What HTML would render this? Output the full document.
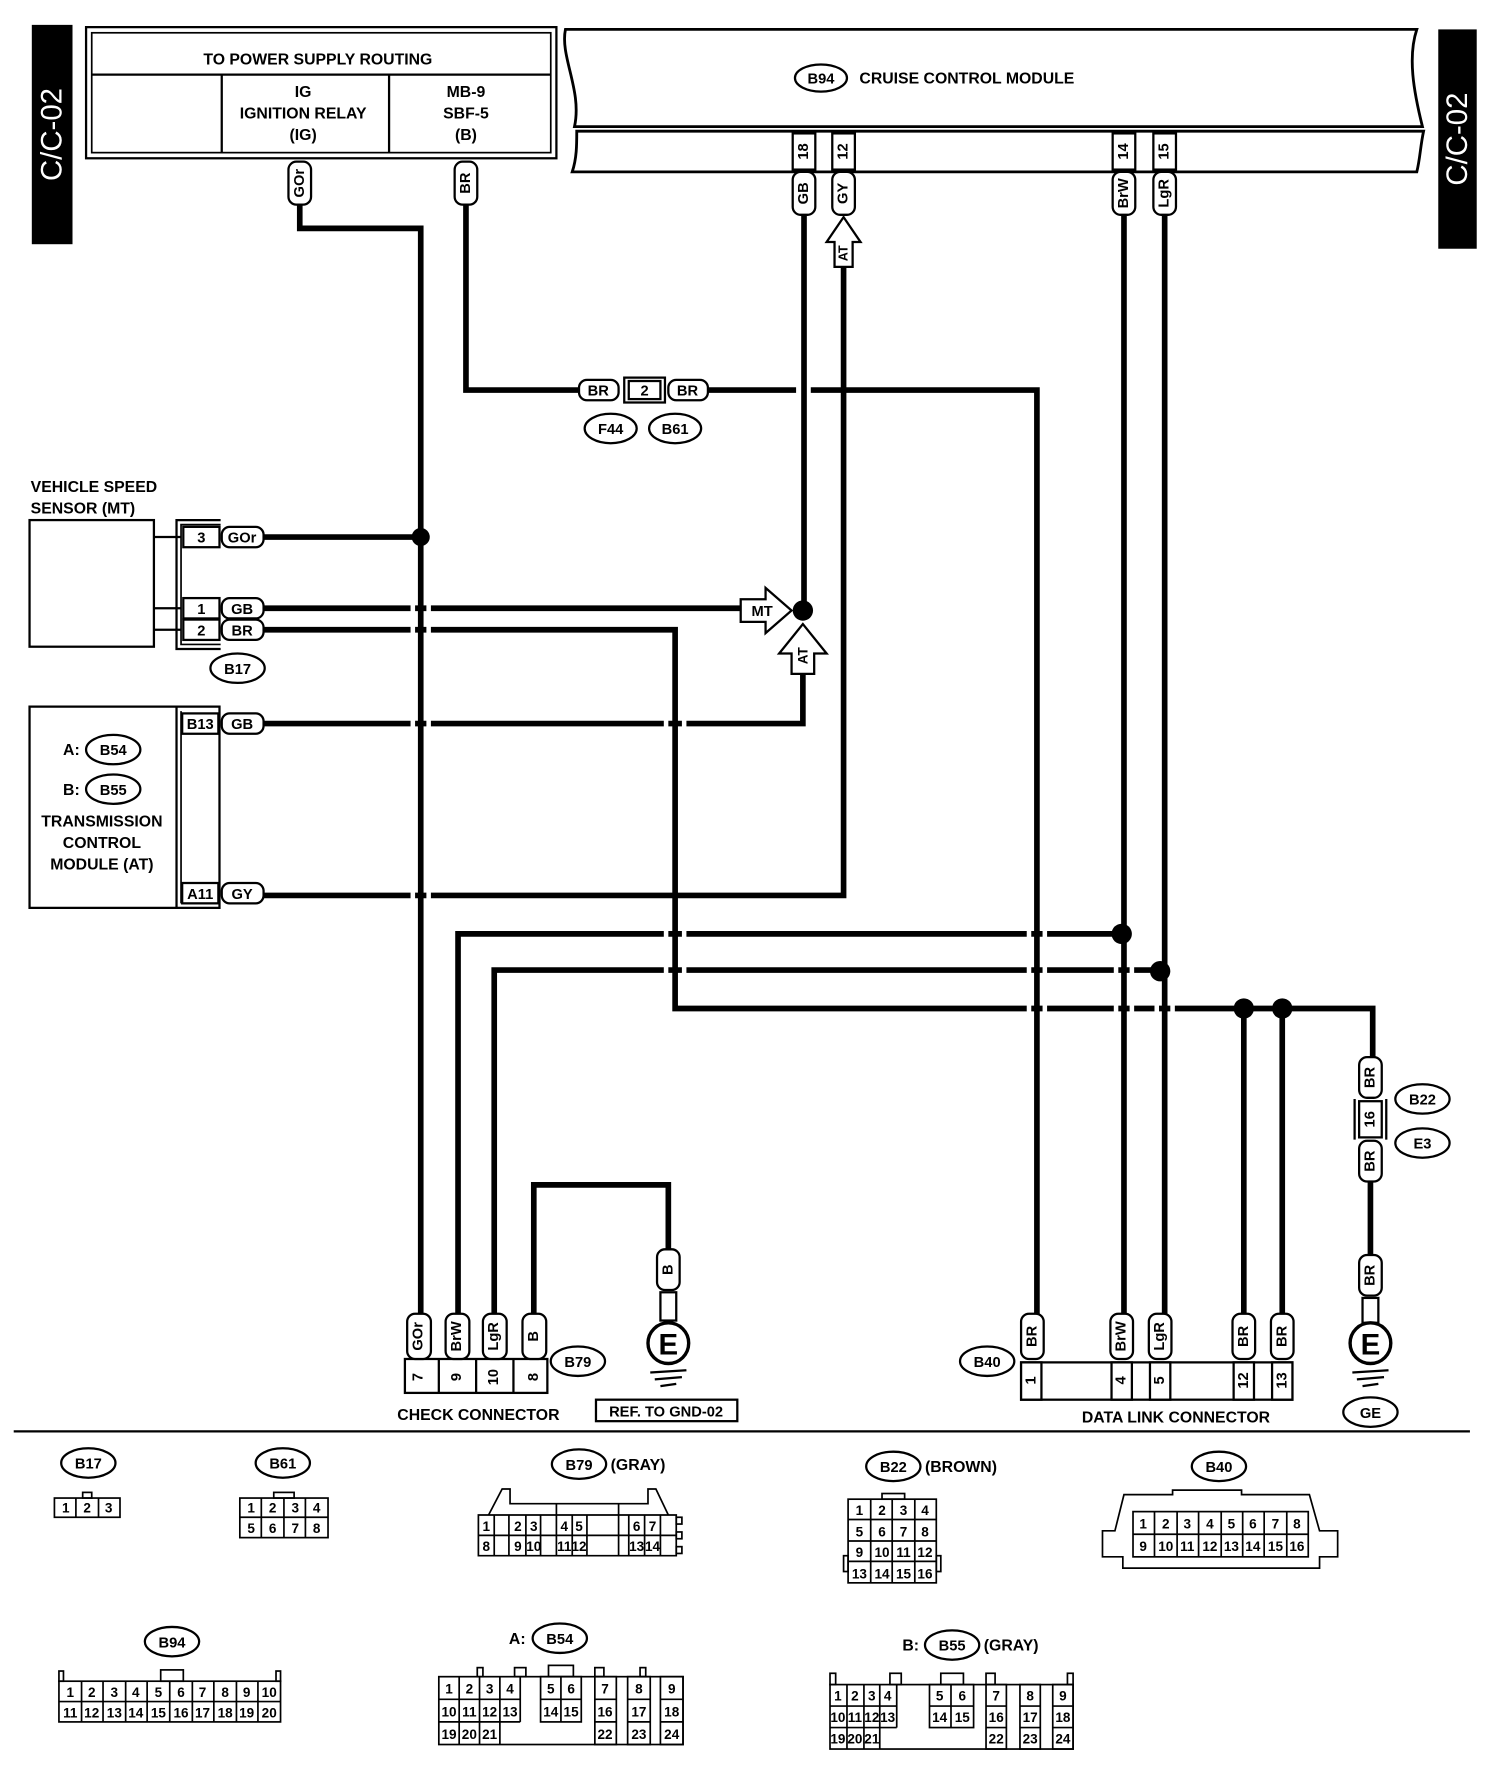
<!DOCTYPE html>
<html><head><meta charset="utf-8"><style>
html,body{margin:0;padding:0;background:#fff}
svg{display:block}
text{font-family:"Liberation Sans",sans-serif;font-weight:bold;fill:#000}
</style></head><body>
<svg width="1504" height="1766" viewBox="0 0 1330 1562" xmlns="http://www.w3.org/2000/svg">
<rect width="1330" height="1562" fill="#fff"/>
<rect x="28" y="22" width="36" height="194" fill="#000"/>
<text transform="translate(46,119) rotate(-90)" text-anchor="middle" dominant-baseline="central" font-size="26" style="fill:#fff;font-weight:normal">C/C-02</text>
<rect x="1272" y="26" width="34" height="194" fill="#000"/>
<text transform="translate(1289,123) rotate(-90)" text-anchor="middle" dominant-baseline="central" font-size="26" style="fill:#fff;font-weight:normal">C/C-02</text>

<g fill="none" stroke="#000" stroke-width="2">
<rect x="76" y="24" width="416" height="116"/>
<rect x="81" y="29" width="406" height="106" stroke-width="1.5"/>
<line x1="81" y1="66" x2="487" y2="66"/>
<line x1="196" y1="66" x2="196" y2="135"/>
<line x1="344" y1="66" x2="344" y2="135"/>
</g>
<text x="281" y="57" text-anchor="middle" font-size="14">TO POWER SUPPLY ROUTING</text>
<text x="268" y="86" text-anchor="middle" font-size="14">IG</text>
<text x="268" y="105" text-anchor="middle" font-size="14">IGNITION RELAY</text>
<text x="268" y="124" text-anchor="middle" font-size="14">(IG)</text>
<text x="412" y="86" text-anchor="middle" font-size="14">MB-9</text>
<text x="412" y="105" text-anchor="middle" font-size="14">SBF-5</text>
<text x="412" y="124" text-anchor="middle" font-size="14">(B)</text>

<g fill="none" stroke="#000" stroke-width="2.5">
<path d="M500,26 L1253,26 C1245,50 1250,80 1258,112 L508,112 C515,80 495,50 500,26 Z"/>
<path d="M510,116 L1259,116 C1256,130 1256,140 1253,152 L506,152 C510,140 510,128 510,116 Z"/>
</g>
<ellipse cx="726" cy="69" rx="23" ry="12" fill="none" stroke="#000" stroke-width="2"/>
<text x="726" y="74" text-anchor="middle" font-size="13">B94</text>
<text x="760" y="74" font-size="14">CRUISE CONTROL MODULE</text>

<g fill="none" stroke="#000" stroke-width="5">
<polyline points="265,180 265,202 372,202 372,1162"/>
<polyline points="412,180 412,345 512,345"/>
<line x1="626" y1="345" x2="704" y2="345"/>
<polyline points="717,345 917,345 917,1162"/>
<line x1="711" y1="190" x2="711" y2="540"/>
<polyline points="746,235 746,792 232,792"/>
<line x1="994" y1="190" x2="994" y2="1162"/>
<line x1="1030" y1="190" x2="1030" y2="1162"/>
<polyline points="405,1162 405,826 992,826"/>
<polyline points="437,1162 437,858 1026,858"/>
<line x1="232" y1="475" x2="372" y2="475"/>
<line x1="232" y1="538" x2="655" y2="538"/>
<polyline points="232,557 597,557 597,892 1214,892 1214,935"/>
<line x1="1100" y1="892" x2="1100" y2="1162"/>
<line x1="1134" y1="892" x2="1134" y2="1162"/>
<polyline points="232,640 710,640 710,595"/>
<polyline points="472,1162 472,1048 591,1048 591,1105"/>
<line x1="1212" y1="1045" x2="1212" y2="1110"/>
</g>
<g fill="#fff">
<rect x="363" y="533" width="4" height="10"/><rect x="377" y="533" width="4" height="10"/>
<rect x="363" y="552" width="4" height="10"/><rect x="377" y="552" width="4" height="10"/>
<rect x="363" y="635" width="4" height="10"/><rect x="377" y="635" width="4" height="10"/>
<rect x="587" y="635" width="4" height="10"/><rect x="603" y="635" width="4" height="10"/>
<rect x="363" y="787" width="4" height="10"/><rect x="377" y="787" width="4" height="10"/>
<rect x="363" y="821" width="4" height="10"/><rect x="377" y="821" width="4" height="10"/>
<rect x="363" y="853" width="4" height="10"/><rect x="377" y="853" width="4" height="10"/>
<rect x="396" y="853" width="4" height="10"/><rect x="410" y="853" width="4" height="10"/>
<rect x="587" y="821" width="4" height="10"/><rect x="603" y="821" width="4" height="10"/>
<rect x="587" y="853" width="4" height="10"/><rect x="603" y="853" width="4" height="10"/>
<rect x="908" y="821" width="4" height="10"/><rect x="922" y="821" width="4" height="10"/>
<rect x="908" y="853" width="4" height="10"/><rect x="922" y="853" width="4" height="10"/>
<rect x="908" y="887" width="4" height="10"/><rect x="922" y="887" width="4" height="10"/>
<rect x="985" y="853" width="4" height="10"/><rect x="999" y="853" width="4" height="10"/>
<rect x="985" y="887" width="4" height="10"/><rect x="999" y="887" width="4" height="10"/>
<rect x="1021" y="887" width="4" height="10"/><rect x="1035" y="887" width="4" height="10"/>
<rect x="737" y="635" width="4" height="10"/><rect x="751" y="635" width="4" height="10"/>
</g>
<g fill="#000">
<circle cx="372" cy="475" r="8"/><circle cx="710" cy="540" r="9"/>
<circle cx="992" cy="826" r="9"/><circle cx="1026" cy="859" r="9"/>
<circle cx="1100" cy="892" r="9"/><circle cx="1134" cy="892" r="9"/>
</g>

<g fill="#fff" stroke="#000" stroke-width="2">
<rect x="255" y="143" width="20" height="38" rx="7"/>
<rect x="402" y="143" width="20" height="38" rx="7"/>
<rect x="701" y="118" width="20" height="32"/><rect x="736" y="118" width="20" height="32"/>
<rect x="984" y="118" width="20" height="32"/><rect x="1020" y="118" width="20" height="32"/>
<rect x="701" y="152" width="20" height="38" rx="7"/><rect x="736" y="152" width="20" height="38" rx="7"/>
<rect x="984" y="152" width="20" height="38" rx="7"/><rect x="1020" y="152" width="20" height="38" rx="7"/>
</g>
<g font-size="13" text-anchor="middle" dominant-baseline="central">
<text transform="translate(265,162) rotate(-90)">GOr</text>
<text transform="translate(412,162) rotate(-90)">BR</text>
<text transform="translate(711,134) rotate(-90)">18</text>
<text transform="translate(746,134) rotate(-90)">12</text>
<text transform="translate(994,134) rotate(-90)">14</text>
<text transform="translate(1030,134) rotate(-90)">15</text>
<text transform="translate(711,171) rotate(-90)">GB</text>
<text transform="translate(746,171) rotate(-90)">GY</text>
<text transform="translate(994,171) rotate(-90)">BrW</text>
<text transform="translate(1030,171) rotate(-90)">LgR</text>
</g>
<path d="M746,192 L761,214 L754,214 L754,236 L738,236 L738,214 L731,214 Z" fill="#fff" stroke="#000" stroke-width="2"/>
<text transform="translate(746,224) rotate(-90)" text-anchor="middle" dominant-baseline="central" font-size="11">AT</text>
<path d="M655,530 L677,530 L677,520 L700,540 L677,560 L677,550 L655,550 Z" fill="#fff" stroke="#000" stroke-width="2"/>
<text x="674" y="545" text-anchor="middle" font-size="13">MT</text>
<path d="M710,552 L731,578 L720,578 L720,596 L700,596 L700,578 L689,578 Z" fill="#fff" stroke="#000" stroke-width="2"/>
<text transform="translate(710,580) rotate(-90)" text-anchor="middle" dominant-baseline="central" font-size="12">AT</text>

<g fill="#fff" stroke="#000" stroke-width="2">
<rect x="512" y="336" width="35" height="18" rx="7"/>
<rect x="552" y="334" width="36" height="22"/>
<rect x="556" y="337" width="28" height="16"/>
<rect x="591" y="336" width="35" height="18" rx="7"/>
<ellipse cx="540" cy="379" rx="23" ry="13"/>
<ellipse cx="597" cy="379" rx="23" ry="13"/>
</g>
<text x="529" y="350" text-anchor="middle" font-size="13">BR</text>
<text x="570" y="350" text-anchor="middle" font-size="13">2</text>
<text x="608" y="350" text-anchor="middle" font-size="13">BR</text>
<text x="540" y="384" text-anchor="middle" font-size="13">F44</text>
<text x="597" y="384" text-anchor="middle" font-size="13">B61</text>

<text x="27" y="435" font-size="14">VEHICLE SPEED</text>
<text x="27" y="454" font-size="14">SENSOR (MT)</text>
<g fill="none" stroke="#000" stroke-width="2">
<rect x="26" y="460" width="110" height="112"/>
<line x1="136" y1="475" x2="160" y2="475"/><line x1="136" y1="538" x2="160" y2="538"/><line x1="136" y1="557" x2="160" y2="557"/>
<polyline points="195,460 156,460 156,574 195,574"/>
<polyline points="195,464 160,464 160,570 195,570" stroke-width="1.5"/>
<rect x="162" y="466" width="32" height="18" fill="#fff"/>
<rect x="162" y="529" width="32" height="18" fill="#fff"/>
<rect x="162" y="548" width="32" height="18" fill="#fff"/>
<rect x="196" y="466" width="37" height="18" rx="7" fill="#fff"/>
<rect x="196" y="529" width="37" height="18" rx="7" fill="#fff"/>
<rect x="196" y="548" width="37" height="18" rx="7" fill="#fff"/>
<ellipse cx="210" cy="591" rx="24" ry="13"/>
</g>
<g font-size="13" text-anchor="middle">
<text x="178" y="480">3</text><text x="178" y="543">1</text><text x="178" y="562">2</text>
<text x="214" y="480">GOr</text><text x="214" y="543">GB</text><text x="214" y="562">BR</text>
<text x="210" y="596">B17</text>
</g>

<g fill="none" stroke="#000" stroke-width="2">
<rect x="26" y="625" width="168" height="178"/>
<line x1="156" y1="625" x2="156" y2="803"/>
<line x1="160" y1="629" x2="160" y2="799" stroke-width="1.5"/>
<rect x="161" y="631" width="32" height="18" fill="#fff"/>
<rect x="161" y="781" width="32" height="18" fill="#fff"/>
<rect x="196" y="631" width="37" height="18" rx="7" fill="#fff"/>
<rect x="196" y="781" width="37" height="18" rx="7" fill="#fff"/>
<ellipse cx="100" cy="663" rx="24" ry="13"/>
<ellipse cx="100" cy="698" rx="24" ry="13"/>
</g>
<g font-size="13" text-anchor="middle">
<text x="177" y="645">B13</text><text x="177" y="795">A11</text>
<text x="214" y="645">GB</text><text x="214" y="795">GY</text>
<text x="100" y="668">B54</text><text x="100" y="703">B55</text>
</g>
<g font-size="14" text-anchor="middle">
<text x="63" y="668">A:</text><text x="63" y="703">B:</text>
<text x="90" y="731">TRANSMISSION</text>
<text x="90" y="750">CONTROL</text>
<text x="90" y="769">MODULE (AT)</text>
</g>

<g fill="#fff" stroke="#000" stroke-width="2">
<rect x="358" y="1202" width="126" height="30"/>
<line x1="388" y1="1202" x2="388" y2="1232"/><line x1="421" y1="1202" x2="421" y2="1232"/>
<line x1="454" y1="1202" x2="454" y2="1232"/>
<rect x="360" y="1162" width="21" height="40" rx="7"/>
<rect x="394" y="1162" width="21" height="40" rx="7"/>
<rect x="427" y="1162" width="21" height="40" rx="7"/>
<rect x="462" y="1162" width="21" height="40" rx="7"/>
<ellipse cx="511" cy="1204" rx="24" ry="13"/>
<rect x="527" y="1238" width="125" height="19"/>
</g>
<g font-size="13" text-anchor="middle" dominant-baseline="central">
<text transform="translate(370,1182) rotate(-90)">GOr</text>
<text transform="translate(404,1182) rotate(-90)">BrW</text>
<text transform="translate(437,1182) rotate(-90)">LgR</text>
<text transform="translate(472,1182) rotate(-90)">B</text>
<text transform="translate(370,1218) rotate(-90)">7</text>
<text transform="translate(404,1218) rotate(-90)">9</text>
<text transform="translate(437,1218) rotate(-90)">10</text>
<text transform="translate(472,1218) rotate(-90)">8</text>
</g>
<text x="511" y="1209" text-anchor="middle" font-size="13">B79</text>
<text x="423" y="1256" text-anchor="middle" font-size="14">CHECK CONNECTOR</text>
<text x="589" y="1253" text-anchor="middle" font-size="13">REF. TO GND-02</text>

<g fill="#fff" stroke="#000" stroke-width="2">
<rect x="581" y="1105" width="20" height="36" rx="7"/>
<rect x="584" y="1143" width="14" height="25"/>
<circle cx="591" cy="1188" r="18" stroke-width="3"/>
</g>
<text transform="translate(591,1123) rotate(-90)" text-anchor="middle" dominant-baseline="central" font-size="13">B</text>
<text x="591" y="1198" text-anchor="middle" font-size="26">E</text>
<g stroke="#000" stroke-width="2">
<line x1="575" y1="1214" x2="607" y2="1212"/><line x1="579" y1="1220" x2="603" y2="1218"/><line x1="584" y1="1226" x2="598" y2="1224"/>
</g>

<g fill="#fff" stroke="#000" stroke-width="2">
<rect x="903" y="1205" width="240" height="33"/>
<rect x="903" y="1205" width="18" height="33"/>
<rect x="983" y="1205" width="18" height="33"/>
<rect x="1017" y="1205" width="18" height="33"/>
<rect x="1091" y="1205" width="18" height="33"/>
<rect x="1125" y="1205" width="18" height="33"/>
<rect x="903" y="1162" width="20" height="40" rx="7"/>
<rect x="982" y="1162" width="20" height="40" rx="7"/>
<rect x="1016" y="1162" width="20" height="40" rx="7"/>
<rect x="1090" y="1162" width="20" height="40" rx="7"/>
<rect x="1124" y="1162" width="20" height="40" rx="7"/>
<ellipse cx="873" cy="1204" rx="24" ry="13"/>
</g>
<g font-size="13" text-anchor="middle" dominant-baseline="central">
<text transform="translate(913,1182) rotate(-90)">BR</text>
<text transform="translate(992,1182) rotate(-90)">BrW</text>
<text transform="translate(1026,1182) rotate(-90)">LgR</text>
<text transform="translate(1100,1182) rotate(-90)">BR</text>
<text transform="translate(1134,1182) rotate(-90)">BR</text>
<text transform="translate(912,1221) rotate(-90)">1</text>
<text transform="translate(992,1221) rotate(-90)">4</text>
<text transform="translate(1026,1221) rotate(-90)">5</text>
<text transform="translate(1100,1221) rotate(-90)">12</text>
<text transform="translate(1134,1221) rotate(-90)">13</text>
</g>
<text x="873" y="1209" text-anchor="middle" font-size="13">B40</text>
<text x="1040" y="1258" text-anchor="middle" font-size="14">DATA LINK CONNECTOR</text>

<g fill="#fff" stroke="#000" stroke-width="2">
<rect x="1202" y="935" width="20" height="36" rx="7"/>
<path d="M1198,972 L1198,1008 M1226,972 L1226,1008" fill="none"/>
<rect x="1202" y="974" width="20" height="32"/>
<rect x="1202" y="1009" width="20" height="36" rx="7"/>
<ellipse cx="1258" cy="972" rx="24" ry="13"/>
<ellipse cx="1258" cy="1011" rx="24" ry="13"/>
<rect x="1202" y="1110" width="20" height="36" rx="7"/>
<rect x="1205" y="1148" width="14" height="22"/>
<circle cx="1212" cy="1188" r="18" stroke-width="3"/>
<ellipse cx="1212" cy="1249" rx="24" ry="13"/>
</g>
<g font-size="13" text-anchor="middle" dominant-baseline="central">
<text transform="translate(1212,953) rotate(-90)">BR</text>
<text transform="translate(1212,990) rotate(-90)">16</text>
<text transform="translate(1212,1027) rotate(-90)">BR</text>
<text transform="translate(1212,1128) rotate(-90)">BR</text>
</g>
<text x="1258" y="977" text-anchor="middle" font-size="13">B22</text>
<text x="1258" y="1016" text-anchor="middle" font-size="13">E3</text>
<text x="1212" y="1198" text-anchor="middle" font-size="26">E</text>
<text x="1212" y="1254" text-anchor="middle" font-size="13">GE</text>
<g stroke="#000" stroke-width="2">
<line x1="1196" y1="1214" x2="1228" y2="1212"/><line x1="1200" y1="1220" x2="1224" y2="1218"/><line x1="1205" y1="1226" x2="1219" y2="1224"/>
</g>

<line x1="12" y1="1266" x2="1300" y2="1266" stroke="#000" stroke-width="2"/>

<g fill="#fff" stroke="#000" stroke-width="2">
<ellipse cx="78" cy="1294" rx="24" ry="13"/>
<ellipse cx="250" cy="1294" rx="24" ry="13"/>
<ellipse cx="512" cy="1295" rx="24" ry="13"/>
<ellipse cx="790" cy="1297" rx="24" ry="13"/>
<ellipse cx="1078" cy="1297" rx="24" ry="13"/>
<ellipse cx="152" cy="1452" rx="24" ry="13"/>
<ellipse cx="495" cy="1449" rx="24" ry="13"/>
<ellipse cx="842" cy="1455" rx="24" ry="13"/>
</g>
<g font-size="13" text-anchor="middle">
<text x="78" y="1299">B17</text><text x="250" y="1299">B61</text><text x="512" y="1300">B79</text>
<text x="790" y="1302">B22</text><text x="1078" y="1302">B40</text><text x="152" y="1457">B94</text>
<text x="495" y="1454">B54</text><text x="842" y="1460">B55</text>
</g>
<g font-size="14">
<text x="540" y="1300">(GRAY)</text><text x="818" y="1302">(BROWN)</text>
<text x="450" y="1454">A:</text><text x="798" y="1460">B:</text><text x="870" y="1460">(GRAY)</text>
</g>

<g fill="none" stroke="#000" stroke-width="1.5">
<rect x="48" y="1325" width="58" height="17"/><line x1="67" y1="1325" x2="67" y2="1342"/><line x1="87" y1="1325" x2="87" y2="1342"/>
<rect x="73" y="1320" width="8" height="5"/>
<rect x="212" y="1325" width="78" height="35"/><line x1="212" y1="1342" x2="290" y2="1342"/>
<line x1="231" y1="1325" x2="231" y2="1360"/><line x1="251" y1="1325" x2="251" y2="1360"/><line x1="270" y1="1325" x2="270" y2="1360"/>
<rect x="242" y="1320" width="18" height="5"/>
<path d="M423,1340 L598,1340 L598,1376 L423,1376 Z"/>
<line x1="423" y1="1358" x2="598" y2="1358"/>
<path d="M432,1340 L444,1317 L451,1317 L451,1330 L573,1330 L573,1317 L580,1317 L591,1340"/>
<line x1="437" y1="1340" x2="437" y2="1376"/><line x1="450" y1="1340" x2="450" y2="1376"/>
<line x1="465" y1="1340" x2="465" y2="1376"/><line x1="478" y1="1340" x2="478" y2="1376"/>
<line x1="492" y1="1330" x2="492" y2="1376"/><line x1="506" y1="1340" x2="506" y2="1376"/><line x1="519" y1="1340" x2="519" y2="1376"/>
<line x1="547" y1="1330" x2="547" y2="1376"/><line x1="556" y1="1340" x2="556" y2="1376"/><line x1="570" y1="1340" x2="570" y2="1376"/><line x1="584" y1="1340" x2="584" y2="1376"/>
<rect x="598" y="1342" width="5" height="6"/><rect x="598" y="1355" width="5" height="6"/><rect x="598" y="1368" width="5" height="6"/>
<rect x="750" y="1326" width="78" height="74"/>
<line x1="750" y1="1344" x2="828" y2="1344"/><line x1="750" y1="1363" x2="828" y2="1363"/><line x1="750" y1="1381" x2="828" y2="1381"/>
<line x1="770" y1="1326" x2="770" y2="1400"/><line x1="789" y1="1326" x2="789" y2="1400"/><line x1="809" y1="1326" x2="809" y2="1400"/>
<rect x="780" y="1321" width="20" height="5"/>
<rect x="746" y="1376" width="4" height="14"/><rect x="828" y="1376" width="4" height="14"/>
<path d="M994,1322 L1037,1322 L1037,1318 L1098,1318 L1098,1322 L1158,1322 L1167,1354 L1183,1354 L1183,1377 L1167,1377 L1167,1387 L993,1387 L993,1377 L975,1377 L975,1354 L986,1354 Z"/>
<rect x="1002" y="1337" width="155" height="40"/><line x1="1002" y1="1357" x2="1157" y2="1357"/>
<line x1="1021" y1="1337" x2="1021" y2="1377"/><line x1="1041" y1="1337" x2="1041" y2="1377"/><line x1="1060" y1="1337" x2="1060" y2="1377"/>
<line x1="1080" y1="1337" x2="1080" y2="1377"/><line x1="1099" y1="1337" x2="1099" y2="1377"/><line x1="1118" y1="1337" x2="1118" y2="1377"/><line x1="1138" y1="1337" x2="1138" y2="1377"/>
<rect x="52" y="1487" width="196" height="36"/><line x1="52" y1="1505" x2="248" y2="1505"/>
<line x1="72" y1="1487" x2="72" y2="1523"/><line x1="91" y1="1487" x2="91" y2="1523"/><line x1="111" y1="1487" x2="111" y2="1523"/>
<line x1="130" y1="1487" x2="130" y2="1523"/><line x1="150" y1="1487" x2="150" y2="1523"/><line x1="170" y1="1487" x2="170" y2="1523"/>
<line x1="189" y1="1487" x2="189" y2="1523"/><line x1="209" y1="1487" x2="209" y2="1523"/><line x1="228" y1="1487" x2="228" y2="1523"/>
<rect x="142" y="1477" width="20" height="10"/><rect x="52" y="1478" width="4" height="9"/><rect x="244" y="1478" width="4" height="9"/>
<rect x="388" y="1483" width="216" height="60"/>
<line x1="388" y1="1503" x2="460" y2="1503"/><line x1="388" y1="1523" x2="460" y2="1523"/>
<line x1="406" y1="1483" x2="406" y2="1543"/><line x1="424" y1="1483" x2="424" y2="1543"/><line x1="442" y1="1483" x2="442" y2="1543"/>
<line x1="460" y1="1483" x2="460" y2="1523"/>
<rect x="478" y="1483" width="36" height="40"/><line x1="478" y1="1503" x2="514" y2="1503"/><line x1="496" y1="1483" x2="496" y2="1523"/>
<rect x="526" y="1483" width="19" height="60"/><line x1="526" y1="1503" x2="545" y2="1503"/><line x1="526" y1="1523" x2="545" y2="1523"/>
<rect x="555" y="1483" width="20" height="60"/><line x1="555" y1="1503" x2="575" y2="1503"/><line x1="555" y1="1523" x2="575" y2="1523"/>
<rect x="584" y="1483" width="20" height="60"/><line x1="584" y1="1503" x2="604" y2="1503"/><line x1="584" y1="1523" x2="604" y2="1523"/>
<rect x="422" y="1475" width="5" height="8"/><rect x="455" y="1475" width="10" height="8"/><rect x="485" y="1473" width="22" height="10"/><rect x="526" y="1475" width="8" height="8"/><rect x="566" y="1475" width="5" height="8"/>
<rect x="734" y="1490" width="215" height="57"/>
<line x1="734" y1="1509" x2="793" y2="1509"/><line x1="734" y1="1528" x2="793" y2="1528"/>
<line x1="749" y1="1490" x2="749" y2="1547"/><line x1="764" y1="1490" x2="764" y2="1547"/><line x1="778" y1="1490" x2="778" y2="1547"/><line x1="793" y1="1490" x2="793" y2="1528"/>
<rect x="822" y="1490" width="39" height="38"/><line x1="822" y1="1509" x2="861" y2="1509"/><line x1="841" y1="1490" x2="841" y2="1528"/>
<rect x="872" y="1490" width="18" height="57"/><line x1="872" y1="1509" x2="890" y2="1509"/><line x1="872" y1="1528" x2="890" y2="1528"/>
<rect x="902" y="1490" width="18" height="57"/><line x1="902" y1="1509" x2="920" y2="1509"/><line x1="902" y1="1528" x2="920" y2="1528"/>
<rect x="931" y="1490" width="18" height="57"/><line x1="931" y1="1509" x2="949" y2="1509"/><line x1="931" y1="1528" x2="949" y2="1528"/>
<rect x="734" y="1480" width="5" height="10"/><rect x="787" y="1480" width="10" height="10"/><rect x="832" y="1480" width="20" height="10"/><rect x="872" y="1480" width="8" height="10"/><rect x="944" y="1480" width="5" height="10"/>
</g>
<g font-size="12" text-anchor="middle" style="font-weight:normal">
<text x="58" y="1338">1</text><text x="77" y="1338">2</text><text x="96" y="1338">3</text>
<text x="222" y="1338">1</text><text x="241" y="1338">2</text><text x="261" y="1338">3</text><text x="280" y="1338">4</text>
<text x="222" y="1356">5</text><text x="241" y="1356">6</text><text x="261" y="1356">7</text><text x="280" y="1356">8</text>
<text x="430" y="1354">1</text><text x="458" y="1354">2</text><text x="472" y="1354">3</text><text x="499" y="1354">4</text><text x="512" y="1354">5</text><text x="563" y="1354">6</text><text x="577" y="1354">7</text>
<text x="430" y="1372">8</text><text x="458" y="1372">9</text><text x="472" y="1372">10</text><text x="499" y="1372">11</text><text x="512" y="1372">12</text><text x="563" y="1372">13</text><text x="577" y="1372">14</text>
<text x="760" y="1340">1</text><text x="780" y="1340">2</text><text x="799" y="1340">3</text><text x="818" y="1340">4</text>
<text x="760" y="1359">5</text><text x="780" y="1359">6</text><text x="799" y="1359">7</text><text x="818" y="1359">8</text>
<text x="760" y="1377">9</text><text x="780" y="1377">10</text><text x="799" y="1377">11</text><text x="818" y="1377">12</text>
<text x="760" y="1396">13</text><text x="780" y="1396">14</text><text x="799" y="1396">15</text><text x="818" y="1396">16</text>
<text x="1011" y="1352">1</text><text x="1031" y="1352">2</text><text x="1050" y="1352">3</text><text x="1070" y="1352">4</text><text x="1089" y="1352">5</text><text x="1108" y="1352">6</text><text x="1128" y="1352">7</text><text x="1147" y="1352">8</text>
<text x="1011" y="1372">9</text><text x="1031" y="1372">10</text><text x="1050" y="1372">11</text><text x="1070" y="1372">12</text><text x="1089" y="1372">13</text><text x="1108" y="1372">14</text><text x="1128" y="1372">15</text><text x="1147" y="1372">16</text>
<text x="62" y="1501">1</text><text x="81" y="1501">2</text><text x="101" y="1501">3</text><text x="120" y="1501">4</text><text x="140" y="1501">5</text><text x="160" y="1501">6</text><text x="179" y="1501">7</text><text x="199" y="1501">8</text><text x="218" y="1501">9</text><text x="238" y="1501">10</text>
<text x="62" y="1519">11</text><text x="81" y="1519">12</text><text x="101" y="1519">13</text><text x="120" y="1519">14</text><text x="140" y="1519">15</text><text x="160" y="1519">16</text><text x="179" y="1519">17</text><text x="199" y="1519">18</text><text x="218" y="1519">19</text><text x="238" y="1519">20</text>
<text x="397" y="1498">1</text><text x="415" y="1498">2</text><text x="433" y="1498">3</text><text x="451" y="1498">4</text><text x="487" y="1498">5</text><text x="505" y="1498">6</text><text x="535" y="1498">7</text><text x="565" y="1498">8</text><text x="594" y="1498">9</text>
<text x="397" y="1518">10</text><text x="415" y="1518">11</text><text x="433" y="1518">12</text><text x="451" y="1518">13</text><text x="487" y="1518">14</text><text x="505" y="1518">15</text><text x="535" y="1518">16</text><text x="565" y="1518">17</text><text x="594" y="1518">18</text>
<text x="397" y="1538">19</text><text x="415" y="1538">20</text><text x="433" y="1538">21</text><text x="535" y="1538">22</text><text x="565" y="1538">23</text><text x="594" y="1538">24</text>
<text x="741" y="1504">1</text><text x="756" y="1504">2</text><text x="771" y="1504">3</text><text x="785" y="1504">4</text><text x="831" y="1504">5</text><text x="851" y="1504">6</text><text x="881" y="1504">7</text><text x="911" y="1504">8</text><text x="940" y="1504">9</text>
<text x="741" y="1523">10</text><text x="756" y="1523">11</text><text x="771" y="1523">12</text><text x="785" y="1523">13</text><text x="831" y="1523">14</text><text x="851" y="1523">15</text><text x="881" y="1523">16</text><text x="911" y="1523">17</text><text x="940" y="1523">18</text>
<text x="741" y="1542">19</text><text x="756" y="1542">20</text><text x="771" y="1542">21</text><text x="881" y="1542">22</text><text x="911" y="1542">23</text><text x="940" y="1542">24</text>
</g>
</svg>
</body></html>
